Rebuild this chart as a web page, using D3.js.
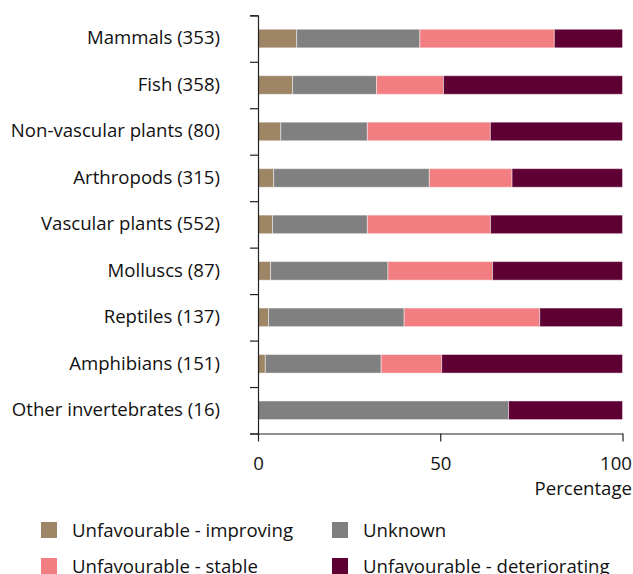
<!DOCTYPE html>
<html>
<head>
<meta charset="utf-8">
<script src="https://cdn.jsdelivr.net/npm/d3@7"></script>
<style>
  html, body { margin: 0; padding: 0; background: #fff; }
  svg { display: block; font-family: "Open Sans", sans-serif; }
</style>
</head>
<body>
<svg id="chart" width="633" height="574"></svg>
<script>
// Species groups with number of assessments
const categories = [
  "Mammals (353)",
  "Fish (358)",
  "Non-vascular plants (80)",
  "Arthropods (315)",
  "Vascular plants (552)",
  "Molluscs (87)",
  "Reptiles (137)",
  "Amphibians (151)",
  "Other invertebrates (16)"
];

// Share of assessments (%) per conservation trend
const improving     = [10.6,  9.5,  6.25,  4.3,  4.0,  3.45,  2.9,  2.0,  0];
const unknown       = [33.8, 23.0, 23.75, 42.7, 26.0, 32.2, 37.2, 31.8, 68.75];
const stable        = [36.9, 18.4, 33.75, 22.7, 33.8, 28.7, 37.2, 16.6, 0];
const deteriorating = [18.7, 49.1, 36.25, 30.3, 36.2, 35.65, 22.7, 49.6, 31.25];

const seriesNames = [
  "Unfavourable - improving",
  "Unknown",
  "Unfavourable - stable",
  "Unfavourable - deteriorating"
];
const seriesColors = ["#9e8566", "#808080", "#f27e81", "#5f0034"];
const xTicks = [0, 50, 100];

const rows = categories.map((c, i) => ({
  category: c,
  [seriesNames[0]]: improving[i],
  [seriesNames[1]]: unknown[i],
  [seriesNames[2]]: stable[i],
  [seriesNames[3]]: deteriorating[i]
}));

const FONT_SIZE = 18.6;
const svg = d3.select("#chart");
const W = 633;
const margin = { top: 15.3, left: 258, right: 10.5 };
const plotBottom = 433.5;
const plotRight = W - margin.right;

const x = d3.scaleLinear().domain([0, 100]).range([margin.left, plotRight]);
const y = d3.scaleBand()
  .domain(categories)
  .range([margin.top, plotBottom])
  .paddingInner(0.6)
  .paddingOuter(0.3);

const color = d3.scaleOrdinal().domain(seriesNames).range(seriesColors);
const stacked = d3.stack().keys(seriesNames)(rows);

// Stacked bars
svg.append("g")
  .selectAll("g")
  .data(stacked)
  .join("g")
  .attr("fill", d => color(d.key))
  .selectAll("rect")
  .data(d => d)
  .join("rect")
  .attr("x", d => x(d[0]))
  .attr("y", d => y(d.data.category))
  .attr("width", d => Math.max(0, x(d[1]) - x(d[0])))
  .attr("height", y.bandwidth())
  .attr("stroke", "#fff")
  .attr("stroke-opacity", d => (d[1] - d[0]) > 0 ? 0.45 : 0)
  .attr("stroke-width", 1);

// Y axis: boundary ticks between groups
const yEdges = d3.scaleLinear().domain([0, categories.length]).range([margin.top, plotBottom]);
const yAxisG = svg.append("g")
  .attr("transform", `translate(${margin.left},0)`)
  .call(d3.axisLeft(yEdges)
    .tickValues(d3.range(0, categories.length + 1))
    .tickSize(8)
    .tickSizeOuter(8)
    .tickFormat(""));
yAxisG.selectAll("path, line").attr("stroke", "#222").attr("stroke-width", 1.2);

// Y axis category labels
const yLabels = svg.append("g")
  .attr("transform", `translate(${margin.left},0)`)
  .call(d3.axisLeft(y).tickSize(0).tickPadding(38));
yLabels.select(".domain").remove();
yLabels.selectAll("text")
  .attr("font-family", "Open Sans, sans-serif")
  .attr("font-size", FONT_SIZE)
  .attr("fill", "#111");

// X axis
const xAxisG = svg.append("g")
  .attr("transform", `translate(0,${plotBottom})`)
  .call(d3.axisBottom(x).tickValues(xTicks).tickSize(8).tickSizeOuter(0).tickPadding(15.5));
xAxisG.selectAll("path, line").attr("stroke", "#222").attr("stroke-width", 1.2);
xAxisG.selectAll("text")
  .attr("font-family", "Open Sans, sans-serif")
  .attr("font-size", FONT_SIZE)
  .attr("fill", "#111");

// Keep the last tick label inside the drawing area
xAxisG.selectAll(".tick text").each(function () {
  const b = this.getBBox();
  const tick = this.parentNode;
  const tx = +tick.getAttribute("transform").match(/translate\(([-\d.]+)/)[1];
  const right = tx + b.x + b.width;
  if (right > W - 1) d3.select(this).attr("x", (W - 1) - right);
});

// X axis title
svg.append("text")
  .attr("x", W - 1)
  .attr("y", 495)
  .attr("text-anchor", "end")
  .attr("font-size", FONT_SIZE)
  .attr("fill", "#111")
  .text("Percentage");

// Legend
const legendPos = [
  { x: 41, y: 522 },
  { x: 332, y: 522 },
  { x: 41, y: 558 },
  { x: 332, y: 558 }
];
const legend = svg.append("g")
  .selectAll("g")
  .data(seriesNames)
  .join("g")
  .attr("transform", (d, i) => `translate(${legendPos[i].x},${legendPos[i].y})`);
legend.append("rect")
  .attr("width", 16)
  .attr("height", 16)
  .attr("fill", d => color(d));
legend.append("text")
  .attr("x", 31)
  .attr("y", 8)
  .attr("dy", "0.35em")
  .attr("font-size", FONT_SIZE)
  .attr("fill", "#111")
  .text(d => d);
</script>
</body>
</html>
